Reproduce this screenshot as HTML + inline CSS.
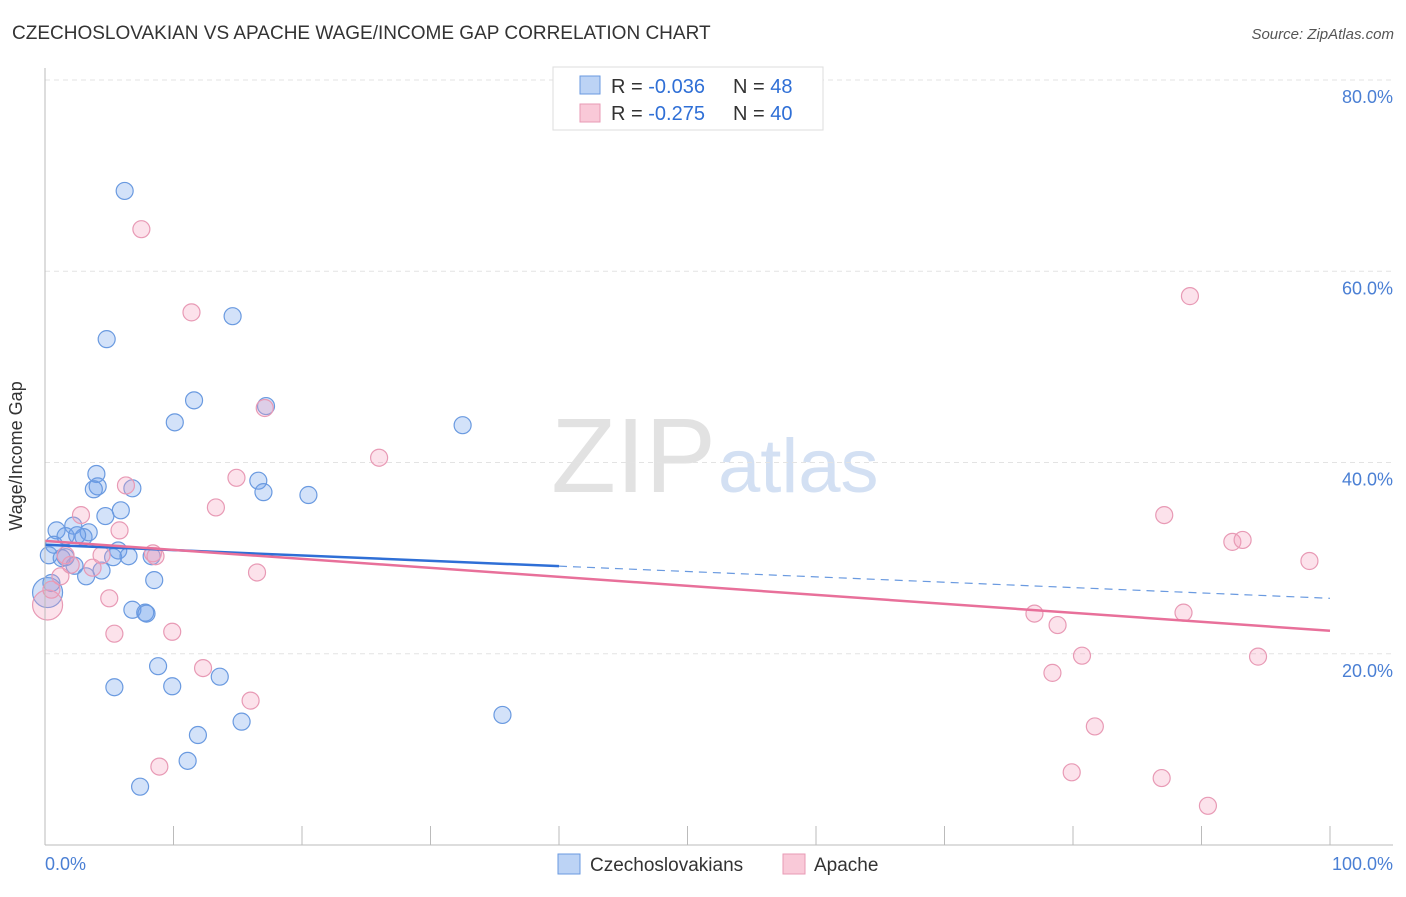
<!DOCTYPE html>
<html><head><meta charset="utf-8"><style>
body{margin:0;background:#fff;font-family:"Liberation Sans",sans-serif}
svg text{font-family:"Liberation Sans",sans-serif}
</style></head><body>
<svg id="chart" width="1406" height="892" xmlns="http://www.w3.org/2000/svg">
<text x="12" y="39" font-size="19" fill="#333">CZECHOSLOVAKIAN VS APACHE WAGE/INCOME GAP CORRELATION CHART</text>
<text x="1394" y="39" font-size="15" fill="#555" font-style="italic" text-anchor="end">Source: ZipAtlas.com</text>
<text x="716" y="492" font-size="106" fill="#e2e2e2" text-anchor="end" font-family="Liberation Serif">ZIP</text>
<text x="718" y="492" font-size="76" fill="#d3e0f3">atlas</text>
<g id="grid"></g>
<g id="pts"></g>
<g id="lines"></g>
<line x1="45" y1="68" x2="45" y2="845" stroke="#bbb"/>
<line x1="45" y1="845" x2="1393" y2="845" stroke="#bbb"/>
<text x="22" y="456" font-size="18" fill="#333" text-anchor="middle" transform="rotate(-90 22 456)">Wage/Income Gap</text>
<text x="45" y="870" font-size="18" fill="#4a7fd4">0.0%</text>
<text x="1393" y="870" font-size="18" fill="#4a7fd4" text-anchor="end">100.0%</text>
<g>
<rect x="553" y="67" width="270" height="63" fill="#fff" stroke="#ddd"/>
<rect x="580" y="76" width="20" height="18" fill="#bcd3f5" stroke="#6a9ae0"/>
<rect x="580" y="104" width="20" height="18" fill="#f9c9d8" stroke="#e89ab5"/>
<text x="611" y="93" font-size="20" fill="#333">R = <tspan fill="#2f6fd6">-0.036</tspan></text>
<text x="733" y="93" font-size="20" fill="#333">N = <tspan fill="#2f6fd6">48</tspan></text>
<text x="611" y="120" font-size="20" fill="#333">R = <tspan fill="#2f6fd6">-0.275</tspan></text>
<text x="733" y="120" font-size="20" fill="#333">N = <tspan fill="#2f6fd6">40</tspan></text>
</g>
<g>
<rect x="558" y="854" width="22" height="20" fill="#bcd3f5" stroke="#6a9ae0"/>
<text x="590" y="871" font-size="19" fill="#333">Czechoslovakians</text>
<rect x="783" y="854" width="22" height="20" fill="#f9c9d8" stroke="#e89ab5"/>
<text x="814" y="871" font-size="19" fill="#333">Apache</text>
</g>
</svg>
<script>
const yTicks=[20,40,60,80];
const xTicks=[0,10,20,30,40,50,60,70,80,90,100];
const czX=[6.2,4.8,14.6,11.6,10.1,17.2,32.5,4.0,4.1,3.8,6.8,16.6,17.0,20.5,5.9,4.7,2.2,0.9,3.4,1.6,3.0,0.7,0.3,1.3,5.7,5.3,6.5,8.3,2.3,4.4,3.2,8.5,6.8,7.8,7.9,8.8,5.4,9.9,13.6,15.3,11.9,11.1,7.4,35.6,0.2,0.5,1.6,2.5];
const czY=[68.4,52.9,55.3,46.5,44.2,45.9,43.9,38.8,37.5,37.2,37.3,38.1,36.9,36.6,35.0,34.4,33.4,32.9,32.7,32.3,32.2,31.4,30.3,30.0,30.8,30.1,30.2,30.2,29.2,28.7,28.1,27.7,24.6,24.3,24.2,18.7,16.5,16.6,17.6,12.9,11.5,8.8,6.1,13.6,26.4,27.4,30.1,32.4];
const apX=[7.5,11.4,89.1,17.1,26.0,6.3,14.9,13.3,87.1,2.8,5.8,92.4,93.2,1.6,4.4,8.4,98.4,16.5,3.7,1.2,5.0,77.0,78.8,88.6,5.4,9.9,80.7,94.4,12.3,78.4,16.0,81.7,8.9,79.9,86.9,90.5,0.2,0.5,2.0,8.6];
const apY=[64.4,55.7,57.4,45.7,40.5,37.6,38.4,35.3,34.5,34.5,32.9,31.7,31.9,30.3,30.3,30.5,29.7,28.5,29.0,28.1,25.8,24.2,23.0,24.3,22.1,22.3,19.8,19.7,18.5,18.0,15.1,12.4,8.2,7.6,7.0,4.1,25.1,26.7,29.3,30.2];
const czTrend=[31.4,25.8];
const apTrend=[31.8,22.4];
const NS="http://www.w3.org/2000/svg";
const sx=v=>45+v*12.85, sy=v=>845-v*9.5625;
function mk(tag,p,parent){const e=document.createElementNS(NS,tag);for(const k in p)e.setAttribute(k,p[k]);document.getElementById(parent).appendChild(e);return e;}
yTicks.forEach(t=>{
 const l=mk('line',{x1:45,x2:1393,y1:sy(t),y2:sy(t),stroke:'#e3e3e3','stroke-dasharray':'5,4'},'grid');
 
 
 const tx=mk('text',{x:1393,y:sy(t)+23,'font-size':18,fill:'#4a7fd4','text-anchor':'end'},'grid');
 tx.textContent=t.toFixed(1)+'%';
 
 
});
xTicks.forEach(t=>{
 const l=mk('line',{x1:sx(t),x2:sx(t),y1:826,y2:845,stroke:'#bbb'},'grid');
 
 
});
czX.forEach((x,i)=>{
 const c=mk('circle',{cx:sx(x),cy:sy(czY[i]),r:i===44?15:8.5,fill:'rgba(110,160,235,0.3)',stroke:'#6a9ae0','stroke-width':1.2},'pts');
 
 
});
apX.forEach((x,i)=>{
 const c=mk('circle',{cx:sx(x),cy:sy(apY[i]),r:i===36?15:8.5,fill:'rgba(245,160,190,0.3)',stroke:'#e89ab5','stroke-width':1.2},'pts');
 
 
});
const cy40=czTrend[0]+(czTrend[1]-czTrend[0])*0.4;
let l1=mk('line',{x1:sx(0),y1:sy(czTrend[0]),x2:sx(40),y2:sy(cy40),stroke:'#2f6fd6','stroke-width':2.5},'lines');


let l2=mk('line',{x1:sx(40),y1:sy(cy40),x2:sx(100),y2:sy(czTrend[1]),stroke:'#6a9ae0','stroke-width':1.2,'stroke-dasharray':'8,6'},'lines');


let l3=mk('line',{x1:sx(0),y1:sy(apTrend[0]),x2:sx(100),y2:sy(apTrend[1]),stroke:'#e8709a','stroke-width':2.5},'lines');


</script>
</body></html>
